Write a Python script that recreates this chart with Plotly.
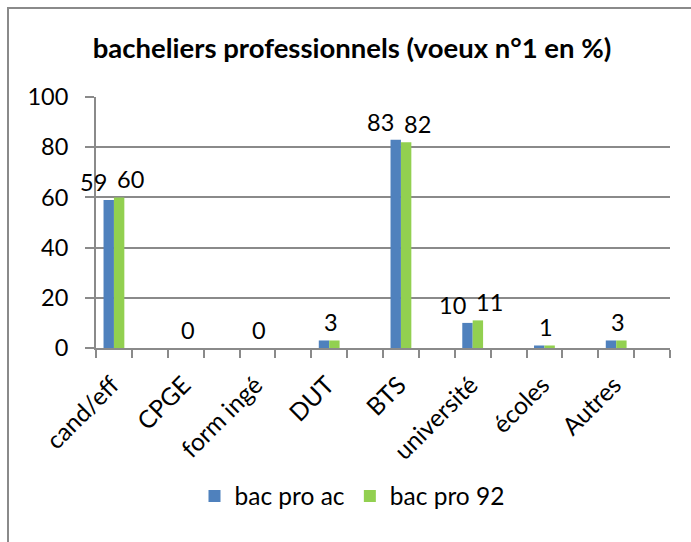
import plotly.graph_objects as go

categories = ["cand/eff", "CPGE", "form ingé", "DUT", "BTS", "université", "écoles", "Autres"]
bac_pro_ac = [59, 0, 0, 3, 83, 10, 1, 3]
bac_pro_92 = [60, 0, 0, 3, 82, 11, 1, 3]
series_names = ["bac pro ac", "bac pro 92"]
y_ticks = [0, 20, 40, 60, 80, 100]

BLUE = "#4F81BD"
GREEN = "#92D050"
GRID = "#8A8A8A"
FONT = "Lato"

W, H = 691, 542
L, R, T, B = 96, 21, 97, 194
PW, PH = W - L - R, H - T - B

xs = list(range(len(categories)))

fig = go.Figure()
fig.add_trace(go.Bar(x=xs, y=bac_pro_ac, name=series_names[0], marker=dict(color=BLUE, line=dict(width=0))))
fig.add_trace(go.Bar(x=xs, y=bac_pro_92, name=series_names[1], marker=dict(color=GREEN, line=dict(width=0))))

lab_font = dict(size=23.5, color="black", family=FONT)
annotations = []
for i, (a, b) in enumerate(zip(bac_pro_ac, bac_pro_92)):
    if a == b:
        annotations.append(dict(x=i, y=a, text=str(a), showarrow=False, xref="x", yref="y",
                                yanchor="bottom", yshift=2, xshift=2, font=lab_font))
    else:
        annotations.append(dict(x=i, y=a, text=str(a), showarrow=False, xref="x", yref="y",
                                yanchor="bottom", yshift=2, xshift=-20, font=lab_font))
        annotations.append(dict(x=i, y=b, text=str(b), showarrow=False, xref="x", yref="y",
                                yanchor="bottom", yshift=2, xshift=17, font=lab_font))

n = len(categories)
minor_vals = [-0.25 + 0.5 * k for k in range(2 * n + 1)]

fig.update_layout(
    width=W, height=H,
    margin=dict(l=L, r=R, t=T, b=B),
    paper_bgcolor="white", plot_bgcolor="white",
    barmode="group", bargap=0.71, bargroupgap=0,
    font=dict(family=FONT, size=23, color="black"),
    title=dict(text="<b>bacheliers professionnels (voeux n°1 en %)</b>",
               x=352 / W, xanchor="center", y=1 - 48 / H, yanchor="middle", yref="container",
               font=dict(family=FONT, size=27.5, color="black")),
    xaxis=dict(range=[-0.25, n - 0.25], tickvals=xs, ticktext=categories, tickangle=-45,
               ticks="", showline=True, linecolor=GRID, linewidth=2, showgrid=False, zeroline=False,
               tickfont=dict(size=24.5, family=FONT, color="black"),
               ticklabelstandoff=11, ticklabelshift=-2,
               minor=dict(tickvals=minor_vals, ticks="outside", ticklen=8, tickwidth=2, tickcolor=GRID, showgrid=False)),
    yaxis=dict(range=[0, 100], tickvals=y_ticks, ticks="outside", ticklen=9, tickwidth=2, tickcolor=GRID,
               showline=True, linecolor=GRID, linewidth=2, showgrid=True, gridcolor=GRID, gridwidth=2,
               zeroline=False, tickfont=dict(size=23.5, family=FONT, color="black"), ticklabelstandoff=12),
    legend=dict(orientation="h", x=(352 - L) / PW, xanchor="center", y=(PH - (496 - T)) / PH, yanchor="middle",
                font=dict(size=24.5, family=FONT, color="black"), itemwidth=30, traceorder="normal"),
    annotations=annotations,
    shapes=[dict(type="rect", xref="paper", yref="paper",
                 x0=(8 - L) / PW, x1=(W + 40 - L) / PW, y0=-(B + 60) / PH, y1=(PH + T - 8) / PH,
                 line=dict(color=GRID, width=2), fillcolor="rgba(0,0,0,0)", layer="below")],
)

fig.write_html("out.html", config={"displayModeBar": False},
               post_script="document.body.style.margin='0';document.body.style.overflow='hidden';")
